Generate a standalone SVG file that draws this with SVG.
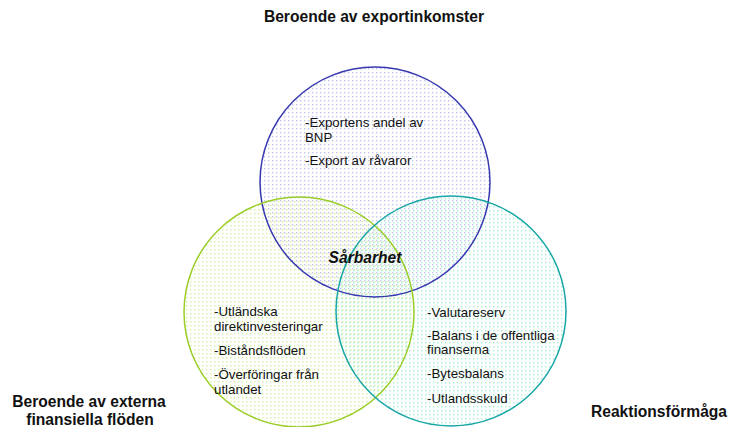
<svg xmlns="http://www.w3.org/2000/svg" width="731" height="427" viewBox="0 0 731 427">
<defs>
<pattern id="pBlue" width="4" height="4" patternUnits="userSpaceOnUse"><rect x="0" y="0" width="1.4" height="1.4" fill="#c4c4f0"/></pattern>
<pattern id="pGreen" width="4" height="4" patternUnits="userSpaceOnUse"><rect x="2" y="1" width="1.4" height="1.4" fill="#d2eea0"/></pattern>
<pattern id="pTeal" width="4" height="4" patternUnits="userSpaceOnUse"><rect x="1" y="2" width="1.4" height="1.4" fill="#a4f0d4"/></pattern>
</defs>
<style>
text{font-family:"Liberation Sans",Arial,sans-serif;fill:#111}
.h{font-size:15.6px;font-weight:bold}
.b{font-size:13.3px}
.c{font-size:15.6px;font-weight:bold;font-style:italic}
.ring{fill:none;stroke-width:1.5}
</style>
<rect width="731" height="427" fill="#fff"/>
<g id="fills">
<circle cx="375" cy="182" r="115" fill="url(#pBlue)"/>
<circle cx="299" cy="312" r="115" fill="url(#pGreen)"/>
<circle cx="451" cy="311" r="115" fill="url(#pTeal)"/>
</g>
<g id="export">
<circle class="ring" cx="375" cy="182" r="115" stroke="#3838b0"/>
<text class="h" x="374" y="22" text-anchor="middle">Beroende av exportinkomster</text>
<text class="b" x="305" y="127">-Exportens andel av</text>
<text class="b" x="305" y="142">BNP</text>
<text class="b" x="305" y="165">-Export av råvaror</text>
</g>
<g id="finans">
<circle class="ring" cx="299" cy="312" r="115" stroke="#9acd28"/>
<text class="h" x="89" y="407" text-anchor="middle">Beroende av externa</text>
<text class="h" x="90" y="425" text-anchor="middle">finansiella flöden</text>
<text class="b" x="214" y="316">-Utländska</text>
<text class="b" x="214" y="331">direktinvesteringar</text>
<text class="b" x="214" y="355">-Biståndsflöden</text>
<text class="b" x="214" y="379">-Överföringar från</text>
<text class="b" x="214" y="394">utlandet</text>
</g>
<g id="reaktion">
<circle class="ring" cx="451" cy="311" r="115" stroke="#18a6a6"/>
<text class="h" x="659" y="417" text-anchor="middle">Reaktionsförmåga</text>
<text class="b" x="427" y="317">-Valutareserv</text>
<text class="b" x="427" y="340">-Balans i de offentliga</text>
<text class="b" x="427" y="354">finanserna</text>
<text class="b" x="427" y="378">-Bytesbalans</text>
<text class="b" x="427" y="403">-Utlandsskuld</text>
</g>
<g id="center">
<text class="c" x="365" y="263" text-anchor="middle">Sårbarhet</text>
</g>
<g id="connectors"></g>
</svg>
